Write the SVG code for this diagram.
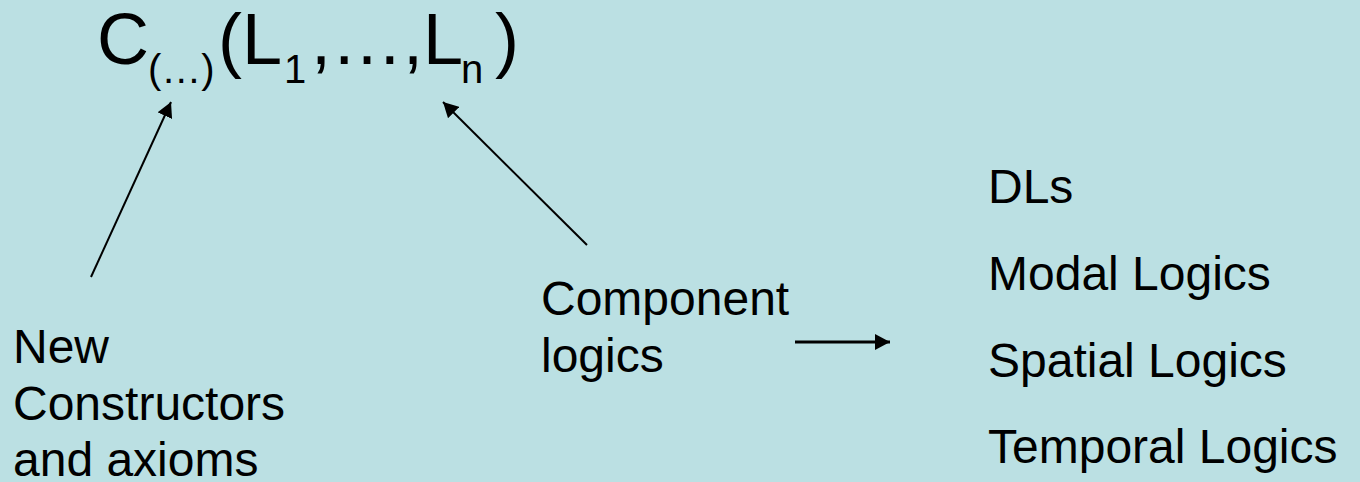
<svg xmlns="http://www.w3.org/2000/svg" width="1360" height="482" viewBox="0 0 1360 482">
  <style>
    .lbl { font-family: "Liberation Sans", Arial, sans-serif; font-size: 48px; fill: #000; }
    .formula { font-family: "Liberation Sans", Arial, sans-serif; font-size: 72px; fill: #000; }
    .sub { font-size: 40px; }
    .conn { stroke: #000; fill: none; }
  </style>
  <defs>
    <marker id="head" markerUnits="userSpaceOnUse" markerWidth="16" markerHeight="16" refX="15" refY="8" orient="auto">
      <path d="M0,0 L15,8 L0,16 Z" fill="#000"/>
    </marker>
  </defs>

  <rect width="1360" height="482" fill="#BBE0E3"/>

  <!-- combined logic expression -->
  <g id="formula">
    <text class="formula" y="64"><tspan x="97">C</tspan><tspan class="sub" x="148" y="83">(…)</tspan><tspan x="218" y="64">(L</tspan><tspan class="sub" x="284" y="83">1</tspan><tspan x="311" y="64">,…,L</tspan><tspan class="sub" x="461" y="83">n</tspan><tspan x="495" y="64">)</tspan></text>
  </g>

  <g id="new-constructors">
    <text class="lbl" x="13" y="363">New</text>
    <text class="lbl" x="13" y="420">Constructors</text>
    <text class="lbl" x="13" y="476">and axioms</text>
  </g>

  <g id="component-logics">
    <text class="lbl" x="541" y="315">Component</text>
    <text class="lbl" x="541" y="371.5">logics</text>
  </g>

  <g id="logic-kinds">
    <text class="lbl" x="988" y="203">DLs</text>
    <text class="lbl" x="988" y="290">Modal Logics</text>
    <text class="lbl" x="988" y="376.5">Spatial Logics</text>
    <text class="lbl" x="988" y="463">Temporal Logics</text>
  </g>

  <g id="connectors">
    <line class="conn" x1="91" y1="277" x2="171" y2="102" stroke-width="2" marker-end="url(#head)"/>
    <line class="conn" x1="587" y1="245" x2="443" y2="102" stroke-width="2" marker-end="url(#head)"/>
    <line class="conn" x1="795" y1="342" x2="890" y2="342" stroke-width="3" marker-end="url(#head)"/>
  </g>
</svg>
